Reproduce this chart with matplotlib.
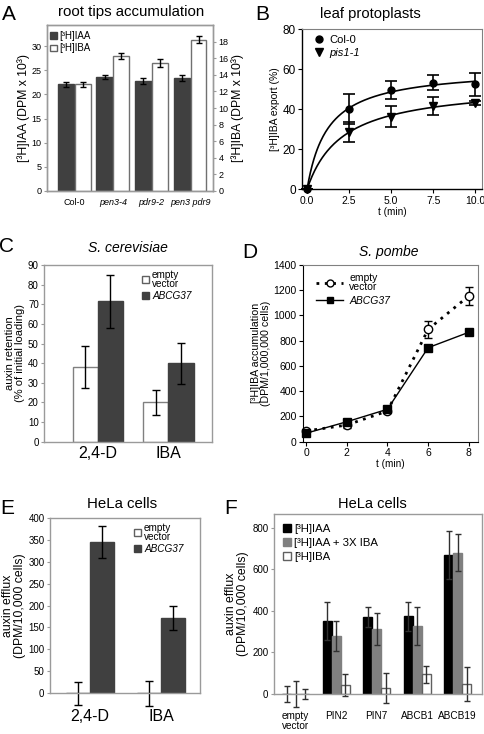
import numpy as np
import matplotlib
matplotlib.use("Agg")
import matplotlib.pyplot as plt
from matplotlib.patches import Patch
from matplotlib.lines import Line2D

plt.rcParams['font.family'] = ['Liberation Sans', 'DejaVu Sans']

# ---- datos ----
# A: root tips accumulation
a_lineas = ['Col-0', 'pen3-4', 'pdr9-2', 'pen3 pdr9']
a_iaa = [22.1, 23.6, 22.8, 23.4]
a_iaa_err = [0.55, 0.35, 0.7, 0.7]
a_iba = [12.86, 16.26, 15.42, 18.23]
a_iba_err = [0.32, 0.34, 0.44, 0.42]

# B: leaf protoplasts
b_t = [0.0, 2.5, 5.0, 7.5, 10.0]
b_col = [0.0, 40.0, 49.6, 53.3, 52.5]
b_col_err = [0.0, 7.6, 4.6, 3.9, 5.8]
b_pis = [0.0, 28.8, 36.3, 41.6, 43.3]
b_pis_err = [0.0, 5.0, 5.3, 4.4, 1.0]

# C: S. cerevisiae
c_aux = ['2,4-D', 'IBA']
c_vacio = [38.0, 20.0]
c_vacio_err = [10.5, 6.3]
c_abcg = [71.5, 40.0]
c_abcg_err = [13.5, 10.5]

# D: S. pombe
d_t = [0, 2, 4, 6, 8]
d_vacio = [85, 132, 243, 890, 1155]
d_vacio_err = [10, 20, 15, 70, 68]
d_abcg = [67, 158, 257, 745, 867]
d_abcg_err = [5, 10, 10, 8, 8]

# E: HeLa cells
e_aux = ['2,4-D', 'IBA']
e_vacio = [0, 0]
e_vacio_err = [26, 29]
e_abcg = [345, 172]
e_abcg_err = [36, 27]

# F: HeLa cells
f_const = ['empty\nvector', 'PIN2', 'PIN7', 'ABCB1', 'ABCB19']
f_iaa = [0, 352, 368, 374, 667]
f_iaa_err = [40, 91, 48, 69, 115]
f_iaa_iba = [0, 278, 312, 326, 680]
f_iaa_iba_err = [62, 72, 76, 92, 87]
f_iba = [0, 42, 27, 96, 48]
f_iba_err = [26, 54, 72, 41, 80]

W, H = 484, 734
fig = plt.figure(figsize=(W / 100, H / 100), dpi=100)


def ejes(x0, y0, x1, y1):
    return fig.add_axes([x0 / W, 1 - y1 / H, (x1 - x0) / W, (y1 - y0) / H])


def texto(x, y, s, **kw):
    fig.text(x / W, 1 - y / H, s, ha='center', va='center', **kw)


def leyenda(ax, handles, labels, x, y, **kw):
    return ax.legend(handles, labels, loc='upper left', bbox_to_anchor=(x / W, 1 - y / H),
                     bbox_transform=fig.transFigure, frameon=False, borderaxespad=0,
                     borderpad=0, **kw)


def sin_recorte(eb):
    for parte in eb.lines:
        if isinstance(parte, tuple):
            for p in parte:
                p.set_clip_on(False)
        elif parte is not None:
            parte.set_clip_on(False)


def caja_gris(ax, color='#9a9a9a'):
    for s in ax.spines.values():
        s.set_color(color)
        s.set_linewidth(1)
    ax.tick_params(colors=color, labelcolor='black')


# letras de panel
for letra, (x, y) in zip('ABCDEF', [(9, 15), (262, 14), (7, 247), (250, 253), (7, 509), (231, 509)]):
    texto(x, y, letra, fontsize=15)

# ---------------- A ----------------
ax = ejes(47, 25, 213, 191)
x = np.arange(len(a_lineas))
w = 0.43
ax.bar(x - w / 2, a_iaa, w, color='#404040', edgecolor='#404040', zorder=2)
ax.errorbar(x - w / 2, a_iaa, yerr=a_iaa_err, fmt='none', ecolor='black', elinewidth=1,
            capsize=2.2, capthick=1, zorder=3)
ax.set_ylim(0, 34.4)
ax.set_xlim(-0.707, 3.59)
ax.set_yticks(range(0, 31, 5))
ax.set_xticks(x)
ax.set_xticklabels(a_lineas, fontsize=6.5)
for lab, st in zip(ax.get_xticklabels(), ['normal', 'italic', 'italic', 'italic']):
    lab.set_style(st)
ax.tick_params(axis='x', length=0, pad=5)
ax.tick_params(axis='y', labelsize=6.5, length=2.5, pad=1.5)
ax.set_ylabel('[³H]IAA (DPM x 10³)', fontsize=8.8, labelpad=1)
ax2 = ax.twinx()
ax2.bar(x + w / 2, a_iba, w * 0.95, color='white', edgecolor='#707070', linewidth=1, zorder=2)
ax2.errorbar(x + w / 2, a_iba, yerr=a_iba_err, fmt='none', ecolor='black', elinewidth=1,
             capsize=2.2, capthick=1, zorder=3)
ax2.set_ylim(0, 20)
ax2.set_yticks(range(0, 19, 2))
ax2.tick_params(axis='y', labelsize=6.5, length=2.5, pad=1.5)
ax2.set_ylabel('[³H]IBA (DPM x 10³)', fontsize=8.8, labelpad=2)
caja_gris(ax)
caja_gris(ax2)
leyenda(ax2, [Patch(facecolor='#404040', edgecolor='#404040'),
              Patch(facecolor='white', edgecolor='#606060')],
        ['[³H]IAA', '[³H]IBA'], 50, 31, fontsize=7, handlelength=0.7, handleheight=0.7,
        handletextpad=0.3, labelspacing=0.25)
texto(131, 12, 'root tips accumulation', fontsize=10.8)

# ---------------- B ----------------
ax = ejes(302, 29.3, 481.7, 189.3)
t = np.array(b_t)
tt = np.linspace(0, 10, 200)
for y, yerr, mk, ms in [(b_col, b_col_err, 'o', 5), (b_pis, b_pis_err, 'v', 6)]:
    y = np.array(y)
    # ajuste hiperbolico y = Vmax*t/(K+t)
    mejor = None
    for K in np.linspace(0.2, 8, 781):
        f = t / (K + t)
        V = (f @ y) / (f @ f)
        r = ((y - V * f) ** 2).sum()
        if mejor is None or r < mejor[0]:
            mejor = (r, K, V)
    _, K, V = mejor
    ax.plot(tt, V * tt / (K + tt), color='black', lw=1.2, clip_on=False)
    eb = ax.errorbar(t, y, yerr=yerr, fmt=mk, color='black', ms=ms, elinewidth=1.2,
                     capsize=4, capthick=1.2)
    sin_recorte(eb)
ax.set_xlim(-0.3, 10.38)
ax.set_ylim(0, 80)
ax.set_xticks(b_t)
ax.set_xticklabels(['0.0', '2.5', '5.0', '7.5', '10.0'])
ax.set_yticks(range(0, 81, 20))
ax.tick_params(axis='x', labelsize=7.5, length=3, pad=1.5)
ax.tick_params(axis='y', labelsize=8.5, length=3, pad=1.5)
for s in ['left', 'bottom']:
    ax.spines[s].set_linewidth(1)
for s in ['top', 'right']:
    ax.spines[s].set_color('#808080')
    ax.spines[s].set_linewidth(0.8)
ax.set_xlabel('t (min)', fontsize=7.2, labelpad=1)
ax.set_ylabel('[³H]IBA export (%)', fontsize=7.5, labelpad=1.5)
lg = leyenda(ax, [Line2D([], [], marker='o', color='black', ls='none', ms=5),
                  Line2D([], [], marker='v', color='black', ls='none', ms=6)],
             ['Col-0', 'pis1-1'], 315, 35, fontsize=8, handlelength=0.8,
             handletextpad=0.5, labelspacing=0.3)
lg.get_texts()[1].set_style('italic')
texto(370, 14, 'leaf protoplasts', fontsize=10.6)

# ---------------- C ----------------
ax = ejes(44.3, 265, 212.3, 441.7)
x = np.arange(len(c_aux))
w = 0.355
ax.bar(x - w / 2, c_vacio, w, color='white', edgecolor='#808080', linewidth=1)
ax.bar(x + w / 2, c_abcg, w, color='#404040', edgecolor='#404040')
ax.errorbar(x - w / 2, c_vacio, yerr=c_vacio_err, fmt='none', ecolor='black', elinewidth=1,
            capsize=3, capthick=1)
ax.errorbar(x + w / 2, c_abcg, yerr=c_abcg_err, fmt='none', ecolor='black', elinewidth=1,
            capsize=3, capthick=1)
ax.set_xlim(-0.755, 1.62)
ax.set_ylim(0, 90)
ax.set_yticks(range(0, 91, 10))
ax.set_xticks(x)
ax.set_xticklabels(c_aux, fontsize=11.5)
ax.tick_params(axis='x', length=0, pad=3)
ax.tick_params(axis='y', labelsize=7, length=2.5, pad=1.5)
caja_gris(ax)
ax.set_ylabel('auxin retention\n(% of initial loading)', fontsize=8, labelpad=2,
              linespacing=1.05)
lg = leyenda(ax, [Patch(facecolor='white', edgecolor='#606060'),
                  Patch(facecolor='#404040', edgecolor='#404040')],
             ['empty\nvector', 'ABCG37'], 142, 270, fontsize=7.2, handlelength=0.7,
             handleheight=0.7, handletextpad=0.3, labelspacing=0.2)
lg.get_texts()[1].set_style('italic')
for tx in lg.get_texts():
    tx.set_linespacing(0.85)
texto(128, 248, 'S. cerevisiae', fontsize=10, style='italic')

# ---------------- D ----------------
ax = ejes(303, 265, 478, 441.7)
eb = ax.errorbar(d_t, d_vacio, yerr=d_vacio_err, color='black', lw=2, ls=(0, (1, 2)),
                 marker='o', ms=6, mfc='white', mec='black', mew=1, elinewidth=1,
                 capsize=3, capthick=1)
sin_recorte(eb)
eb = ax.errorbar(d_t, d_abcg, yerr=d_abcg_err, color='black', lw=1, marker='s', ms=6,
                 elinewidth=1, capsize=3, capthick=1)
sin_recorte(eb)
ax.set_xlim(-0.15, 8.45)
ax.set_ylim(0, 1400)
ax.set_xticks(d_t)
ax.set_yticks(range(0, 1401, 200))
ax.tick_params(labelsize=7.5, length=3, pad=1.5)
for s in ['top', 'right']:
    ax.spines[s].set_color('#808080')
    ax.spines[s].set_linewidth(0.8)
ax.set_xlabel('t (min)', fontsize=7.2, labelpad=1)
ax.set_ylabel('[³H]IBA accumulation\n(DPM/1,000,000 cells)', fontsize=7.7, labelpad=2,
              linespacing=1.0)
lg = leyenda(ax, [Line2D([], [], color='black', lw=2, ls=(0, (1, 2)), marker='o', ms=5,
                         mfc='white'),
                  Line2D([], [], color='black', lw=1, marker='s', ms=5)],
             ['empty\nvector', 'ABCG37'], 316, 273, fontsize=7.5, handlelength=2.6,
             handletextpad=0.6, labelspacing=0.4)
lg.get_texts()[1].set_style('italic')
for tx in lg.get_texts():
    tx.set_linespacing(0.85)
texto(389, 252, 'S. pombe', fontsize=10, style='italic')

# ---------------- E ----------------
ax = ejes(50, 517.7, 200, 693.3)
x = np.arange(len(e_aux))
w = 0.34
ax.bar(x - w / 2, e_vacio, w, color='white', edgecolor='#404040', linewidth=1)
ax.bar(x + w / 2, e_abcg, w, color='#404040', edgecolor='#404040')
eb = ax.errorbar(x - w / 2, e_vacio, yerr=e_vacio_err, fmt='none', ecolor='black',
                 elinewidth=1, capsize=3, capthick=1)
sin_recorte(eb)
ax.errorbar(x + w / 2, e_abcg, yerr=e_abcg_err, fmt='none', ecolor='black', elinewidth=1,
            capsize=3, capthick=1)
ax.set_xlim(-0.563, 1.55)
ax.set_ylim(0, 400)
ax.set_yticks(range(0, 401, 50))
ax.set_xticks(x)
ax.set_xticklabels(e_aux, fontsize=11.5)
ax.tick_params(axis='x', length=0, pad=11)
ax.tick_params(axis='y', labelsize=7, length=2.5, pad=1.5)
caja_gris(ax)
ax.set_ylabel('auxin efflux\n(DPM/10,000 cells)', fontsize=8.8, labelpad=2, linespacing=1.0)
lg = leyenda(ax, [Patch(facecolor='white', edgecolor='#606060'),
                  Patch(facecolor='#404040', edgecolor='#404040')],
             ['empty\nvector', 'ABCG37'], 134, 523, fontsize=7.2, handlelength=0.7,
             handleheight=0.7, handletextpad=0.3, labelspacing=0.2)
lg.get_texts()[1].set_style('italic')
for tx in lg.get_texts():
    tx.set_linespacing(0.85)
texto(122, 504, 'HeLa cells', fontsize=10.8)

# ---------------- F ----------------
ax = ejes(274, 514.3, 482, 694)
x = np.arange(len(f_const))
w = 0.22
series = [(f_iaa, f_iaa_err, 'black', 'black'),
          (f_iaa_iba, f_iaa_iba_err, '#808080', '#808080'),
          (f_iba, f_iba_err, 'white', '#606060')]
for i, (v, e, fc, ec) in enumerate(series):
    pos = x + (i - 1) * w
    ax.bar(pos, v, w, color=fc, edgecolor=ec, linewidth=1)
    eb = ax.errorbar(pos, v, yerr=e, fmt='none', ecolor='#303030', elinewidth=1,
                     capsize=2.5, capthick=1)
    sin_recorte(eb)
ax.set_xlim(-0.535, 4.6)
ax.set_ylim(0, 864)
ax.set_yticks(range(0, 801, 200))
ax.set_xticks(x)
ax.set_xticklabels(f_const, fontsize=7.2, linespacing=1.0)
ax.tick_params(axis='x', length=0, pad=12)
ax.tick_params(axis='y', labelsize=7, length=2.5, pad=1.5)
caja_gris(ax)
ax.set_ylabel('auxin efflux\n(DPM/10,000 cells)', fontsize=8.8, labelpad=2, linespacing=1.0)
leyenda(ax, [Patch(facecolor='black', edgecolor='black'),
             Patch(facecolor='#808080', edgecolor='#808080'),
             Patch(facecolor='white', edgecolor='#606060')],
        ['[³H]IAA', '[³H]IAA + 3X IBA', '[³H]IBA'], 283, 524, fontsize=8.2,
        handlelength=0.7, handleheight=0.7, handletextpad=0.3, labelspacing=0.35)
texto(372, 504, 'HeLa cells', fontsize=10.5)

fig.savefig('out.png', dpi=100)
